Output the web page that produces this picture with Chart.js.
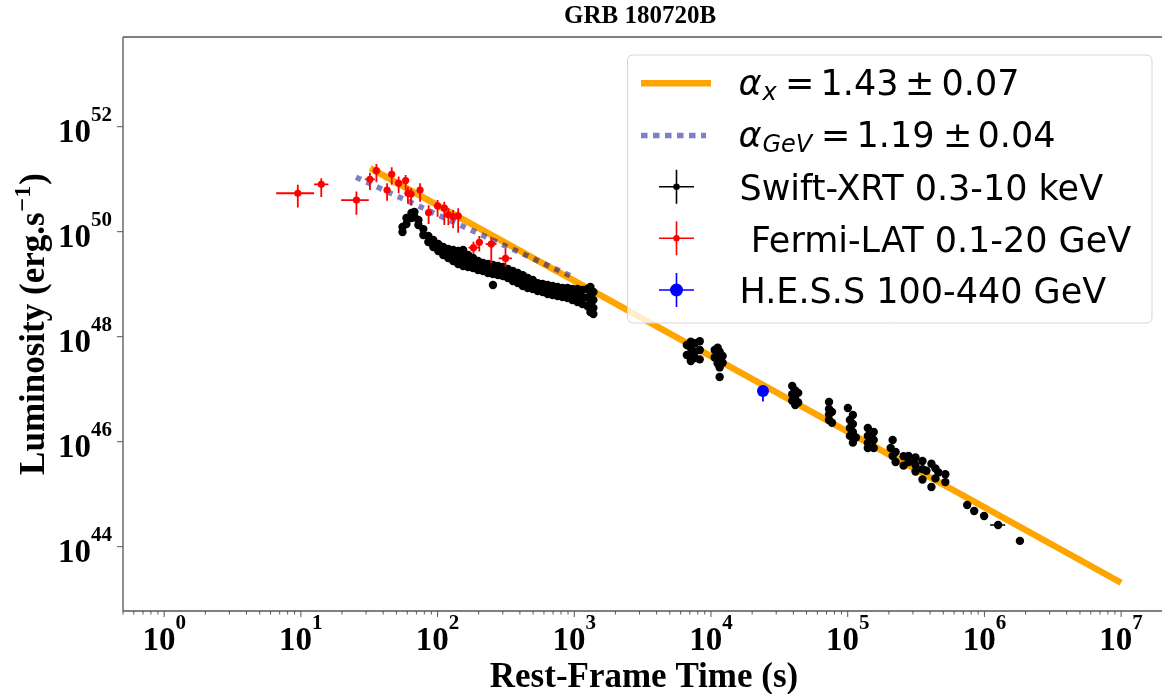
<!DOCTYPE html>
<html><head><meta charset="utf-8">
<script src="https://cdn.jsdelivr.net/npm/chart.js@4/dist/chart.umd.min.js"></script>
<style>html,body{margin:0;padding:0;background:#fff;overflow:hidden}</style>
</head><body>
<canvas id="c" width="1163" height="694"></canvas>
<script>
// ---------------- DATA ----------------
const chartTitle = 'GRB 180720B';
const xAxisTitle = 'Rest-Frame Time (s)';
const yAxisTitleParts = ['Luminosity (erg.s', '\u22121', ')'];

const xTickExp = [0, 1, 2, 3, 4, 5, 6, 7];
const yTickExp = [44, 46, 48, 50, 52];
const xLimits = [0.5, 1.83e7];
const yLimits = [5.96e42, 5.11e53];

// Power-law fits
const fitXTime = [32.2, 1.0e7];
const fitXLum = [1.62e51, 2.06e43];
const fitGeVTime = [25.3, 970];
const fitGeVLum = [1.09e51, 1.39e49];
const fitXLabel = { sub: 'x', value: '1.43', err: '0.07' };
const fitGeVLabel = { sub: 'GeV', value: '1.19', err: '0.04' };

// Swift-XRT 0.3-10 keV
const xrtTime = [
 55.4,55.4,59.2,59.2,64.4,64.4,67.7,67.7,72.4,72.4,78.7,78.7,85.6,85.6,93.0,93.0,101.2,101.2,
 110.0,110.0,110.0,119.6,119.6,119.6,130.1,130.1,130.1,141.4,141.4,141.4,153.8,153.8,153.8,
 167.2,167.2,167.2,181.8,181.8,181.8,197.7,197.7,197.7,215.0,215.0,215.0,233.8,233.8,233.8,
 254.2,254.2,254.2,254.2,276.4,276.4,276.4,300.5,300.5,300.5,326.8,326.8,326.8,355.3,355.3,355.3,
 386.3,386.3,386.3,420.1,420.1,420.1,456.7,456.7,456.7,496.6,496.6,496.6,540.0,540.0,540.0,
 587.1,587.1,587.1,638.4,638.4,638.4,694.1,694.1,694.1,754.7,754.7,754.7,820.6,820.6,820.6,
 892.3,892.3,892.3,970.2,970.2,970.2,1055,1055,1055,1147,1147,1147,1247,1247,1247,
 1312,1312,1312,1312,1379,1379,1379,1379,
 6658,6658,7118,7118,7118,7118,7609,7609,7609,8276,8276,8276,
 10640,10640,11186,11186,11186,11568,11568,11568,12164,12164,11568,
 39290,39290,39290,41300,41300,41300,43420,43420,
 73000,73000,73000,73000,76760,76760,
 100300,109100,103800,103800,103800,109100,109100,109100,114700,
 140300,140300,140300,140300,155100,155100,155100,
 213200,206200,224100,213200,224100,256300,256300,
 278700,278700,293000,313300,313300,313300,352300,352300,352300,
 376700,409700,409700,438000,438000,460600,517800,517800,
 748400,841800,995000,1259000,1818000
];
const xrtLum = [
 1.23e50,9.87e49,1.82e50,1.40e50,2.27e50,1.82e50,2.37e50,1.91e50,1.67e50,1.34e50,1.12e50,8.65e49,8.28e49,6.37e49,6.95e49,5.12e49,5.83e49,4.29e49,
 5.12e49,4.29e49,3.60e49,4.68e49,3.93e49,3.16e49,4.48e49,3.60e49,2.77e49,4.29e49,3.30e49,2.43e49,4.48e49,3.16e49,2.22e49,
 3.60e49,2.77e49,2.13e49,3.16e49,2.54e49,2.04e49,2.77e49,2.27e49,1.86e49,2.54e49,2.13e49,1.78e49,2.43e49,2.00e49,1.63e49,
 2.33e49,1.90e49,1.56e49,9.66e48,2.22e49,1.82e49,1.49e49,2.13e49,1.75e49,1.43e49,1.95e49,1.63e49,1.31e49,1.78e49,1.43e49,1.15e49,
 1.63e49,1.31e49,1.05e49,1.49e49,1.17e49,9.25e48,1.31e49,1.05e49,8.47e48,1.20e49,9.86e48,8.10e48,1.05e49,8.85e48,7.43e48,
 1.01e49,8.47e48,7.10e48,9.66e48,7.93e48,6.50e48,9.25e48,7.59e48,6.22e48,8.85e48,7.26e48,5.96e48,8.47e48,6.95e48,5.70e48,
 8.47e48,6.80e48,5.46e48,8.10e48,6.37e48,5.00e48,8.10e48,6.08e48,4.58e48,7.76e48,5.70e48,4.20e48,8.10e48,5.57e48,3.85e48,
 8.85e48,5.96e48,4.20e48,2.96e48,7.10e48,5.00e48,3.52e48,2.71e48,
 6.95e47,4.48e47,8.0e47,6.09e47,4.48e47,3.44e47,7.5e47,5.11e47,3.93e47,8.2e47,5.58e47,3.7e47,
 5.58e47,4.0e47,6.2e47,4.48e47,3.1e47,5.2e47,3.44e47,2.6e47,4.3e47,3.2e47,1.71e47,
 1.15e47,8.0e46,6.0e46,9.5e46,6.5e46,5.0e46,8.5e46,5.6e46,
 5.71e46,4.2e46,3.3e46,2.6e46,3.7e46,2.3e46,
 4.39e46,3.23e46,2.59e46,1.82e46,1.29e46,2.17e46,1.53e46,9.6e45,1.2e46,
 1.82e46,1.29e46,9.5e45,7.6e45,1.53e46,1.08e46,7.6e45,
 1.08e46,7.6e45,6.37e45,5.34e45,4.1e45,5.3e45,3.5e45,
 5.34e45,4.1e45,4.48e45,5.0e45,3.6e45,2.7e45,4.3e45,3.0e45,1.9e45,
 2.8e45,3.8e45,1.37e45,3.1e45,2.0e45,2.6e45,2.4e45,1.7e45,
 6.23e44,4.79e44,3.85e44,2.59e44,1.29e44
];
// visible XRT error bars: [time, lum, timeLo, timeHi, lumLo, lumHi]
const xrtErrBars = [[1259000, 2.59e44, 1.10e6, 1.42e6, 2.4e44, 2.8e44]];

// Fermi-LAT 0.1-20 GeV
const fermiTime   = [9.5, 14.1, 25.5, 32, 35.7, 42.7, 46.2, 51.9, 58.4, 60.7, 64, 74.5, 86, 100, 112, 120, 130, 141.5, 183, 202, 247, 314];
const fermiTimeLo = [6.6, 12.5, 19.7, 29.4, 33.5, 40.5, 44, 49.5, 56, 58.5, 62, 71, 81, 96, 108, 116, 125, 136, 168, 195, 225, 280];
const fermiTimeHi = [12.5, 15.9, 31.4, 34.8, 38, 45, 48.5, 54.5, 61, 63, 66, 78, 91, 104, 116, 124, 135, 147, 200, 210, 270, 350];
const fermiLum   = [5.4e50, 8.0e50, 4.0e50, 9.96e50, 1.45e51, 6.2e50, 1.24e51, 8.4e50, 9.4e50, 5.4e50, 5.2e50, 6.2e50, 2.3e50, 3.1e50, 2.8e50, 2.1e50, 1.93e50, 2.0e50, 4.96e49, 6.3e49, 5.8e49, 3.1e49];
const fermiLumLo = [2.9e50, 4.6e50, 2.1e50, 6.2e50, 8.7e50, 3.9e50, 7.8e50, 5.4e50, 6.2e50, 3.5e50, 3.2e50, 3.7e50, 1.4e50, 1.93e50, 1.34e50, 1.34e50, 1.16e50, 9.6e49, 3.76e49, 4.2e49, 2.5e49, 2.15e49];
const fermiLumHi = [7.8e50, 1.04e51, 5.8e50, 1.33e51, 1.95e51, 8.4e50, 1.69e51, 1.12e51, 1.2e51, 7.2e50, 6.7e50, 8.4e50, 3.2e50, 4.0e50, 3.7e50, 2.8e50, 2.6e50, 2.8e50, 6.4e49, 8.3e49, 8.0e49, 4.8e49];

// H.E.S.S 100-440 GeV
const hessTime = [24000], hessTimeLo = [23300], hessTimeHi = [24700];
const hessLum = [9.2e46], hessLumLo = [5.8e46], hessLumHi = [1.2e47];

const legendLabels = ['Swift-XRT 0.3-10 keV', ' Fermi-LAT 0.1-20 GeV', 'H.E.S.S 100-440 GeV'];

// ---------------- BUILD ----------------
const pts = (xs, ys) => xs.map((x, i) => ({ x: x, y: ys[i] }));
const SERIF = '"Liberation Serif", "Times New Roman", serif';
const SANS = '"DejaVu Sans", sans-serif';

const datasets = [
  { label: 'HESS', data: pts(hessTime, hessLum), pointRadius: 6, pointBackgroundColor: 'blue', pointBorderWidth: 0, showLine: false, order: 1,
    err: { xlo: hessTimeLo, xhi: hessTimeHi, ylo: hessLumLo, yhi: hessLumHi, color: 'blue', width: 1.8 } },
  { label: 'Fermi', data: pts(fermiTime, fermiLum), pointRadius: 3.6, pointBackgroundColor: 'red', pointBorderWidth: 0, showLine: false, order: 2,
    err: { xlo: fermiTimeLo, xhi: fermiTimeHi, ylo: fermiLumLo, yhi: fermiLumHi, color: 'red', width: 1.8 } },
  { label: 'XRT', data: pts(xrtTime, xrtLum), pointRadius: 4.2, pointBackgroundColor: 'black', pointBorderWidth: 0, showLine: false, order: 3,
    errList: xrtErrBars, errColor: 'black' },
  { label: 'fitGeV', data: pts(fitGeVTime, fitGeVLum), showLine: true, pointRadius: 0, borderColor: 'rgba(0,0,139,0.5)', borderWidth: 5.5,
    borderDash: [5.5, 6], borderCapStyle: 'butt', order: 4 },
  { label: 'fitX', data: pts(fitXTime, fitXLum), showLine: true, pointRadius: 0, borderColor: '#FFA500', borderWidth: 6.5,
    borderCapStyle: 'butt', order: 5 }
];

function powLabel(ctx, exp, x, y, mode) {
  ctx.save();
  ctx.fillStyle = '#000';
  ctx.textAlign = 'left';
  ctx.textBaseline = 'alphabetic';
  const fb = 'bold 33px ' + SERIF, fe = 'bold 21px ' + SERIF;
  ctx.font = fb; const wb = ctx.measureText('10').width;
  ctx.font = fe; const we = ctx.measureText(String(exp)).width;
  let left, bBase, bExp;
  if (mode === 'x') { left = x - (wb + we) / 2; bBase = y; bExp = y - 21.5; }
  else { left = x - (wb + we); bBase = y + 15.5; bExp = y - 5.5; }
  ctx.font = fb; ctx.fillText('10', left, bBase);
  ctx.font = fe; ctx.fillText(String(exp), left + wb, bExp);
  ctx.restore();
}

function errMarker(ctx, cx, cy, color, r) {
  ctx.save();
  ctx.strokeStyle = color; ctx.fillStyle = color; ctx.lineWidth = 1.6;
  ctx.beginPath();
  ctx.moveTo(cx - 17.5, cy); ctx.lineTo(cx + 17.5, cy);
  ctx.moveTo(cx, cy - 17); ctx.lineTo(cx, cy + 17);
  ctx.stroke();
  ctx.beginPath(); ctx.arc(cx, cy, r, 0, Math.PI * 2); ctx.fill();
  ctx.restore();
}

const customPlugin = {
  id: 'custom',
  beforeDraw(chart) {
    const ctx = chart.ctx;
    ctx.save(); ctx.fillStyle = '#fff'; ctx.fillRect(0, 0, chart.width, chart.height); ctx.restore();
  },
  beforeDatasetDraw(chart, args) {
    const ds = chart.data.datasets[args.index];
    const xs = chart.scales.x, ys = chart.scales.y, ca = chart.chartArea, ctx = chart.ctx;
    const bars = [];
    if (ds.err) {
      ds.data.forEach((p, i) => bars.push([p.x, p.y, ds.err.xlo[i], ds.err.xhi[i], ds.err.ylo[i], ds.err.yhi[i]]));
    }
    if (ds.errList) ds.errList.forEach(b => bars.push(b));
    if (!bars.length) return;
    ctx.save();
    ctx.beginPath(); ctx.rect(ca.left, ca.top, ca.right - ca.left, ca.bottom - ca.top); ctx.clip();
    ctx.strokeStyle = ds.err ? ds.err.color : ds.errColor;
    ctx.lineWidth = ds.err ? ds.err.width : 1.6;
    ctx.beginPath();
    bars.forEach(b => {
      const px = xs.getPixelForValue(b[0]), py = ys.getPixelForValue(b[1]);
      ctx.moveTo(xs.getPixelForValue(b[2]), py); ctx.lineTo(xs.getPixelForValue(b[3]), py);
      ctx.moveTo(px, ys.getPixelForValue(b[4])); ctx.lineTo(px, ys.getPixelForValue(b[5]));
    });
    ctx.stroke();
    ctx.restore();
  },
  afterDatasetsDraw(chart) {
    const ctx = chart.ctx, xs = chart.scales.x, ys = chart.scales.y, ca = chart.chartArea;
    ctx.save();
    ctx.strokeStyle = '#555'; ctx.lineWidth = 1.3;
    ctx.beginPath();
    ctx.moveTo(ca.left, ca.top); ctx.lineTo(ca.right + 5, ca.top);
    ctx.moveTo(ca.left, ca.top); ctx.lineTo(ca.left, ca.bottom);
    ctx.moveTo(ca.left, ca.bottom); ctx.lineTo(ca.right + 5, ca.bottom);
    ctx.stroke();
    ctx.lineWidth = 1;
    ctx.beginPath();
    for (let k = -1; k <= 8; k++) {
      for (let d = 1; d <= 9; d++) {
        const v = d * Math.pow(10, k);
        if (v < xLimits[0] || v > xLimits[1]) continue;
        const px = xs.getPixelForValue(v);
        const len = d === 1 ? 6 : 3.5;
        ctx.moveTo(px, ca.bottom); ctx.lineTo(px, ca.bottom + len);
      }
    }
    yTickExp.forEach(e => {
      const py = ys.getPixelForValue(Math.pow(10, e));
      ctx.moveTo(ca.left, py); ctx.lineTo(ca.left - 6, py);
    });
    ctx.stroke();
    ctx.restore();
    xTickExp.forEach(e => powLabel(ctx, e, xs.getPixelForValue(Math.pow(10, e)), 650, 'x'));
    yTickExp.forEach(e => powLabel(ctx, e, 112, ys.getPixelForValue(Math.pow(10, e)), 'y'));

    ctx.save();
    ctx.fillStyle = '#000';
    ctx.font = 'bold 25px ' + SERIF; ctx.textAlign = 'center'; ctx.textBaseline = 'alphabetic';
    ctx.fillText(chartTitle, (ca.left + ca.right) / 2, 23);
    ctx.font = 'bold 35px ' + SERIF;
    ctx.fillText(xAxisTitle, (ca.left + ca.right) / 2 + 4, 687);
    ctx.save();
    ctx.translate(44, (ca.top + ca.bottom) / 2);
    ctx.rotate(-Math.PI / 2);
    ctx.textAlign = 'left';
    ctx.font = 'bold 35px ' + SERIF; const w1 = ctx.measureText(yAxisTitleParts[0]).width;
    ctx.font = 'bold 24px ' + SERIF; const w2 = ctx.measureText(yAxisTitleParts[1]).width;
    ctx.font = 'bold 35px ' + SERIF; const w3 = ctx.measureText(yAxisTitleParts[2]).width;
    let sx = -(w1 + w2 + w3 + 2) / 2;
    ctx.fillText(yAxisTitleParts[0], sx, 0);
    ctx.font = 'bold 24px ' + SERIF; ctx.fillText(yAxisTitleParts[1], sx + w1 + 1, -14);
    ctx.font = 'bold 35px ' + SERIF; ctx.fillText(yAxisTitleParts[2], sx + w1 + w2 + 2, 0);
    ctx.restore();
    ctx.restore();

    // legend
    ctx.save();
    const L = 627.5, T = 55, R = 1152, B = 323, rad = 6;
    ctx.beginPath();
    ctx.moveTo(L + rad, T); ctx.lineTo(R - rad, T); ctx.quadraticCurveTo(R, T, R, T + rad);
    ctx.lineTo(R, B - rad); ctx.quadraticCurveTo(R, B, R - rad, B);
    ctx.lineTo(L + rad, B); ctx.quadraticCurveTo(L, B, L, B - rad);
    ctx.lineTo(L, T + rad); ctx.quadraticCurveTo(L, T, L + rad, T);
    ctx.closePath();
    ctx.fillStyle = 'rgba(255,255,255,0.8)'; ctx.fill();
    ctx.strokeStyle = '#d6d6d6'; ctx.lineWidth = 1; ctx.stroke();

    ctx.lineCap = 'butt';
    ctx.strokeStyle = datasets[4].borderColor; ctx.lineWidth = 6.5;
    ctx.beginPath(); ctx.moveTo(641, 83.3); ctx.lineTo(711, 83.3); ctx.stroke();
    ctx.strokeStyle = datasets[3].borderColor; ctx.lineWidth = 5.5; ctx.setLineDash([6.5, 5.5]);
    ctx.beginPath(); ctx.moveTo(641, 135.5); ctx.lineTo(706, 135.5); ctx.stroke();
    ctx.setLineDash([]);
    errMarker(ctx, 676.5, 186.7, 'black', 3.2);
    errMarker(ctx, 676.5, 238.3, 'red', 3.2);
    errMarker(ctx, 676.5, 290, 'blue', 6.5);

    ctx.fillStyle = '#000'; ctx.textAlign = 'left'; ctx.textBaseline = 'alphabetic';
    const rows = [[fitXLabel, 95, 100, [785, 820.5, 905, 941.5]], [fitGeVLabel, 146.7, 151.7, [821, 856.5, 943, 977.5]]];
    rows.forEach(r => {
      const lab = r[0], base = r[1], subBase = r[2], xsPos = r[3];
      ctx.font = 'italic 35px ' + SANS; ctx.fillText('\u03b1', 738.5, base);
      ctx.font = 'italic 24px ' + SANS; ctx.fillText(lab.sub, 762.5, subBase);
      ctx.font = '35px ' + SANS;
      ctx.fillText('=', xsPos[0], base);
      ctx.fillText(lab.value, xsPos[1], base);
      ctx.fillText('\u00b1', xsPos[2], base);
      ctx.fillText(lab.err, xsPos[3], base);
    });
    ctx.font = '35px ' + SANS;
    ctx.fillText(legendLabels[0], 739.5, 199.5);
    ctx.fillText(legendLabels[1], 739.5, 251.5);
    ctx.fillText(legendLabels[2], 739.5, 303);
    ctx.restore();
  }
};

new Chart(document.getElementById('c'), {
  type: 'scatter',
  data: { datasets: datasets },
  options: {
    responsive: false,
    animation: false,
    devicePixelRatio: 1,
    events: [],
    layout: { padding: { left: 123, top: 37, right: 0, bottom: 83 } },
    scales: {
      x: { type: 'logarithmic', min: xLimits[0], max: xLimits[1], display: false },
      y: { type: 'logarithmic', min: yLimits[0], max: yLimits[1], display: false }
    },
    plugins: { legend: { display: false }, title: { display: false }, tooltip: { enabled: false } }
  },
  plugins: [customPlugin]
});
</script>
</body></html>
